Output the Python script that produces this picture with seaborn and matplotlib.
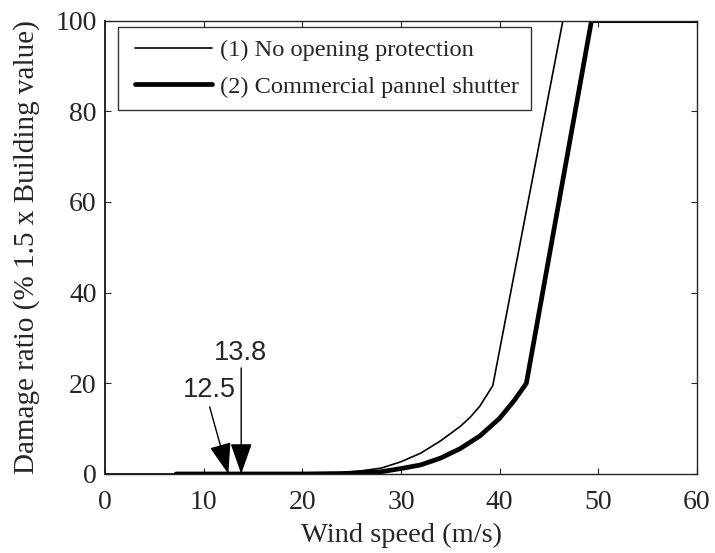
import matplotlib
matplotlib.use("Agg")
import matplotlib.pyplot as plt
from matplotlib.legend_handler import HandlerLine2D
import seaborn as sns
import pandas as pd

# Damage curves: wind speed (m/s) vs damage ratio (%)
speed_none = [0, 10, 20, 24, 26, 28, 30, 32, 34, 36, 37, 38, 39.3, 46.4, 60]
damage_none = [0, 0, 0, 0.3, 0.7, 1.3, 2.7, 4.6, 7.3, 10.5, 12.5, 15.0, 19.5, 100, 100]

speed_shutter = [7.2, 10, 20, 24, 26, 28, 30, 32, 34, 36, 38, 40, 41.5, 42.7, 49.3, 60]
damage_shutter = [0, 0, 0, 0.1, 0.25, 0.5, 1.2, 2.0, 3.5, 5.6, 8.4, 12.3, 16.3, 20, 100, 100]

labels = ["(1) No opening protection", "(2) Commercial pannel shutter"]
marked_speeds = [12.5, 13.8]

df = pd.concat([
    pd.DataFrame({"speed": speed_none, "damage": damage_none, "case": labels[0]}),
    pd.DataFrame({"speed": speed_shutter, "damage": damage_shutter, "case": labels[1]}),
])

sns.set_style("ticks")
plt.rcParams["font.family"] = ["Liberation Serif", "DejaVu Serif"]

fig = plt.figure(figsize=(7.15, 5.53), dpi=100)
ax = fig.add_axes([0.1469, 0.1429, 0.828, 0.8197])

sns.lineplot(data=df, x="speed", y="damage", hue="case", size="case",
             sizes={labels[0]: 1.2, labels[1]: 3.4},
             palette={labels[0]: "black", labels[1]: "black"},
             ax=ax, legend=False, sort=False)

# Legend built from the drawn lines, with the handles inset from the frame
lines = ax.get_lines()
leg = ax.legend(lines[:2], labels, loc="upper left",
                bbox_to_anchor=(0.022, 0.9854), borderaxespad=0,
                fontsize=17.6, frameon=True, fancybox=False,
                edgecolor="black", handlelength=3.35, handletextpad=0.36,
                borderpad=0.48, labelspacing=0.6,
                handler_map={lines[0]: HandlerLine2D(xpad=0.2),
                             lines[1]: HandlerLine2D(xpad=0.2)})
leg.get_frame().set_linewidth(1.0)

ax.set_xlim(0, 60)
ax.set_ylim(0, 100)
ax.set_xticks(range(0, 61, 10))
ax.set_yticks(range(0, 101, 20))
ax.tick_params(direction="in", top=True, right=True, labelsize=20, length=4.5,
               width=0.8)
ax.tick_params(axis="x", pad=11.5)
ax.tick_params(axis="y", pad=6)
for s in ax.spines.values():
    s.set_linewidth(1.0)
ax.spines["left"].set_linewidth(1.4)

ax.set_xlabel("Wind speed (m/s)", fontsize=20.5, labelpad=6)
ax.set_ylabel("Damage ratio (% 1.5 x Building value)", fontsize=21, labelpad=11)

# Threshold arrows with their speed labels
arrow_kw = dict(arrowstyle="-|>,head_length=0.97,head_width=0.34",
                color="black", lw=1.0, shrinkA=0, shrinkB=0, mutation_scale=20)
label_pos = [(10.6, 18.5), (13.7, 26.7)]
arrow_start = [(10.6, 14.8), (marked_speeds[1], 23.4)]
for speed, (tx, ty), start in zip(marked_speeds, label_pos, arrow_start):
    ax.text(tx, ty, f"{speed}", ha="center", va="center", fontsize=19.5,
            family="Liberation Sans")
    ax.annotate("", xy=(speed, 0), xytext=start, arrowprops=arrow_kw)

fig.savefig("out.png", dpi=100)
